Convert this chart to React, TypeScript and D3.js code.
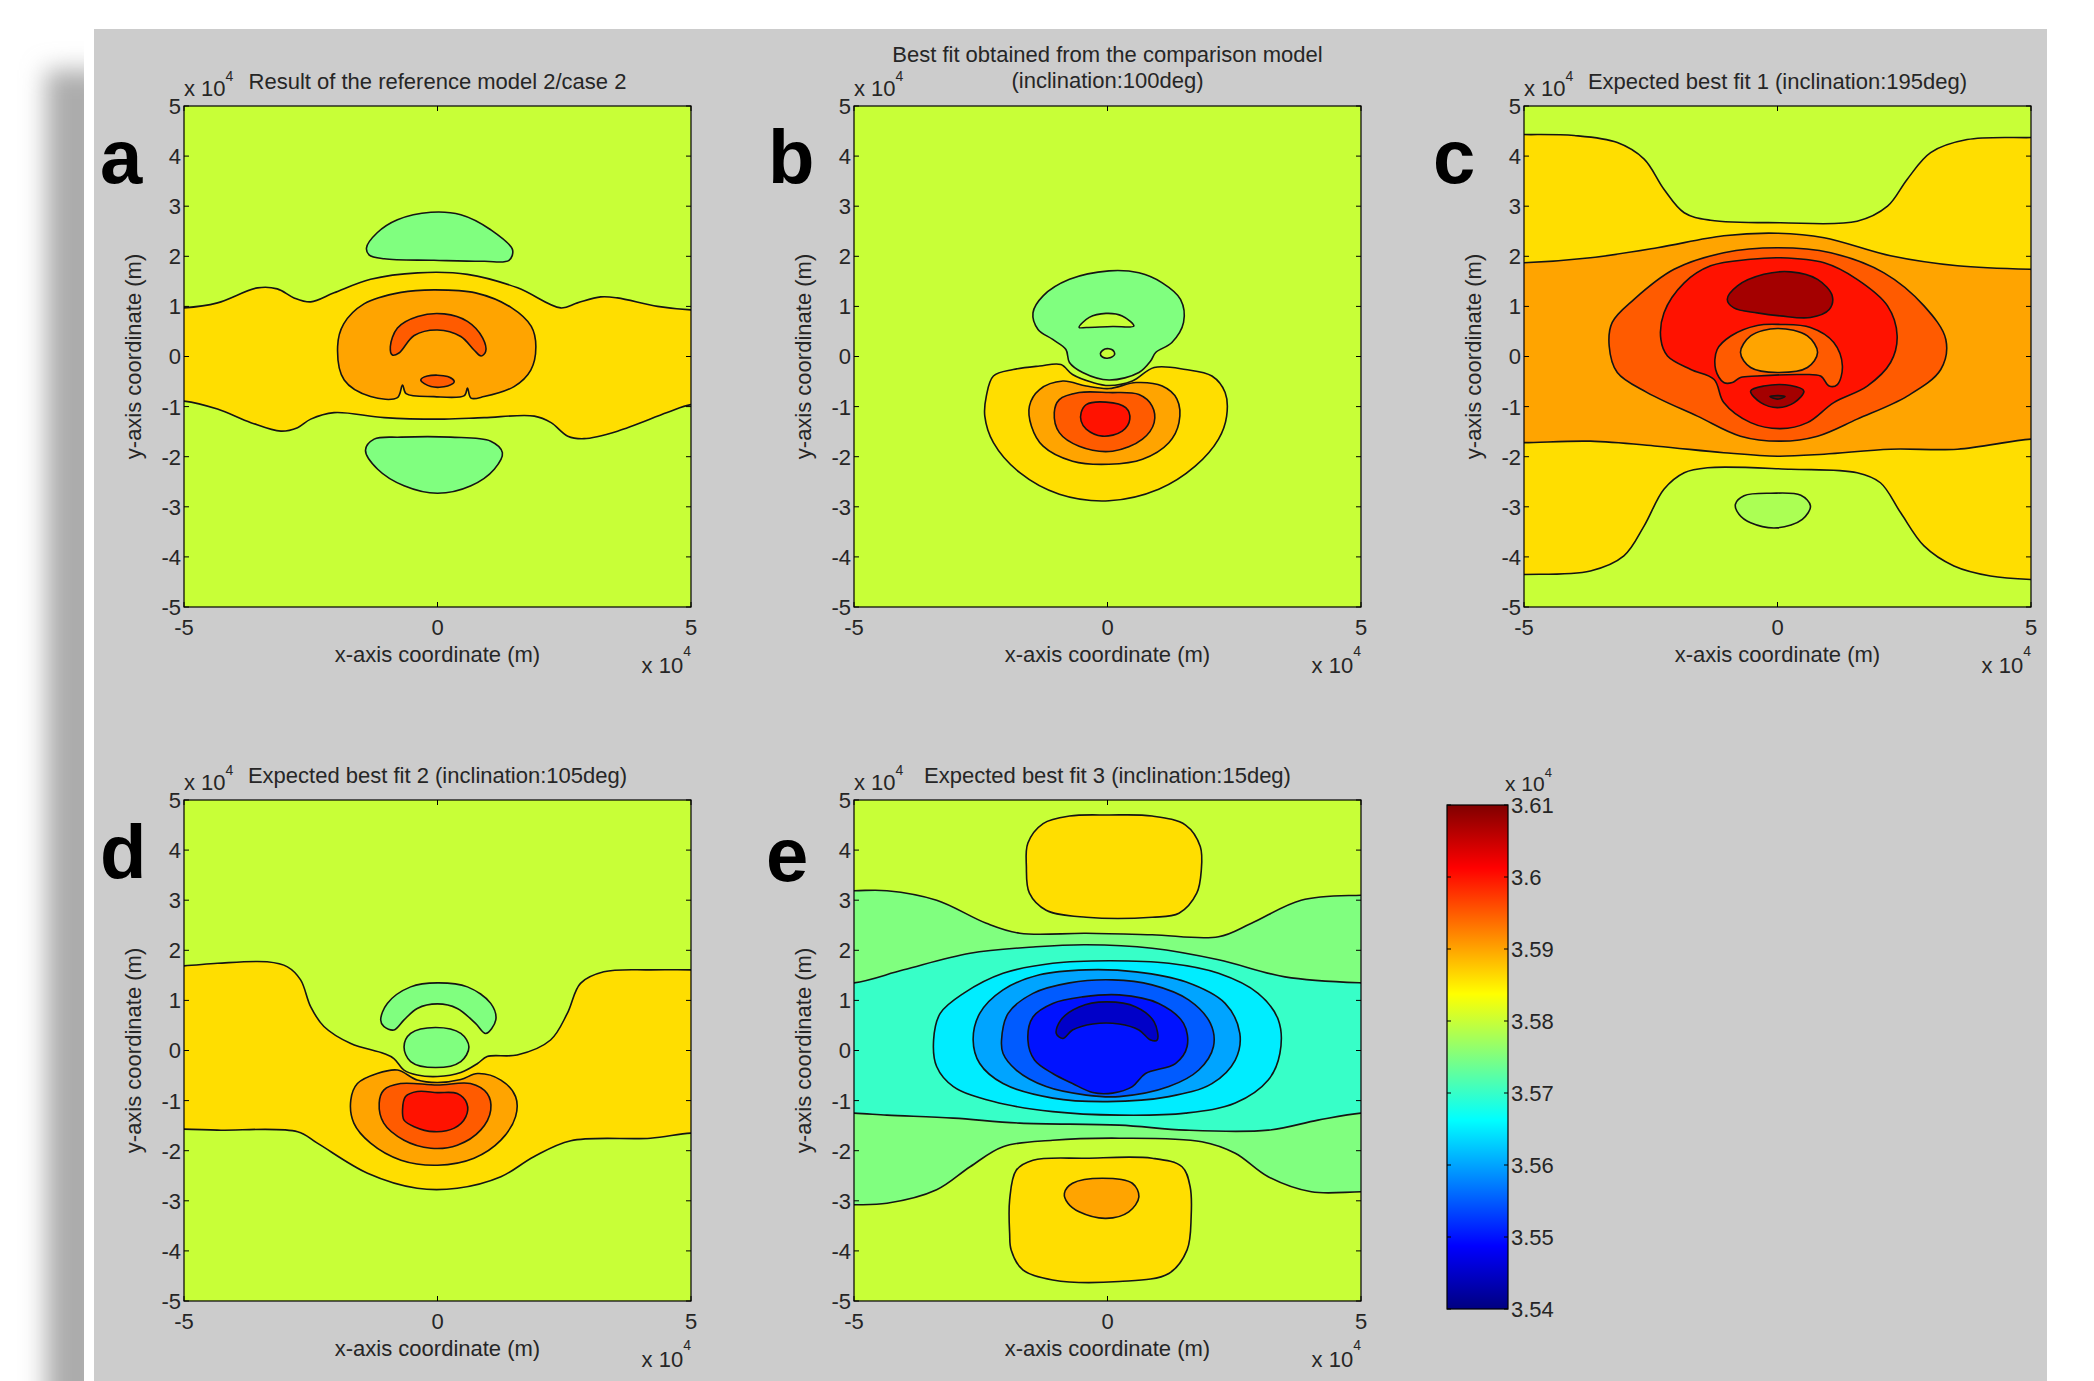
import React from 'react';
import * as d3 from 'd3';

type Pt = [number, number];
type Shape = { level: number; ring?: Pt[]; top?: Pt[]; bottom?: Pt[] };

// contour levels (x 10^4)
const L_NAVY = 3.545;
const L_DEEPBLUE = 3.55;
const L_BLUE = 3.555;
const L_LIGHTBLUE = 3.56;
const L_CYAN = 3.565;
const L_SEA = 3.57;
const L_GREEN = 3.575;
const L_PALE = 3.578;
const L_BASE = 3.58;
const L_YELLOW = 3.586;
const L_ORANGE = 3.59;
const L_REDORANGE = 3.595;
const L_RED = 3.6;
const L_DARKRED = 3.6075;
const L_CORE = 3.61;

const cbTicks = [3.54, 3.55, 3.56, 3.57, 3.58, 3.59, 3.6, 3.61];
const axisTicksY = [-5, -4, -3, -2, -1, 0, 1, 2, 3, 4, 5];
const axisTicksX = [-5, 0, 5];

// ---- panel a (contour outlines, x/y in 10^4 m)
const aYellowTop: Pt[] = [[-5, 0.97], [-4.34, 1.07], [-3.55, 1.37], [-3.16, 1.35], [-2.83, 1.17], [-2.5, 1.09], [-2.04, 1.27], [-1.32, 1.54], [-0.39, 1.67], [0.59, 1.64], [1.58, 1.37], [2.43, 0.97], [2.76, 1.07], [3.22, 1.19], [3.55, 1.17], [4.34, 1.0], [5, 0.93]];
const aYellowBottom: Pt[] = [[-5, -0.89], [-4.34, -1.05], [-3.68, -1.32], [-3.09, -1.49], [-2.76, -1.42], [-2.5, -1.25], [-2.04, -1.12], [-1.05, -1.22], [0.13, -1.25], [0.92, -1.22], [1.91, -1.19], [2.24, -1.32], [2.57, -1.59], [2.89, -1.64], [3.55, -1.49], [4.53, -1.12], [5, -0.96]];
const aGreenUp: Pt[] = [[-1.4, 2.17], [-1.19, 2.47], [-0.79, 2.73], [-0.13, 2.88], [0.46, 2.83], [1.05, 2.53], [1.48, 2.13], [1.41, 1.92], [0.92, 1.9], [-0.07, 1.92], [-1.05, 1.95], [-1.35, 2.03]];
const aGreenDown: Pt[] = [[-1.42, -1.87], [-1.25, -1.65], [-0.72, -1.61], [0.26, -1.61], [1.05, -1.69], [1.28, -1.92], [1.12, -2.25], [0.66, -2.58], [0, -2.73], [-0.66, -2.58], [-1.18, -2.25]];
const aOrange: Pt[] = [[-1.97, 0.2], [-1.85, 0.65], [-1.45, 1.05], [-0.72, 1.28], [-0.07, 1.33], [0.75, 1.27], [1.45, 0.98], [1.85, 0.6], [1.94, 0.2], [1.84, -0.27], [1.51, -0.6], [0.92, -0.8], [0.66, -0.83], [0.59, -0.63], [0.53, -0.78], [-0.07, -0.8], [-0.62, -0.74], [-0.69, -0.57], [-0.79, -0.82], [-1.32, -0.8], [-1.84, -0.47]];
const aRedArch: Pt[] = [[-0.93, 0.2], [-0.79, 0.57], [-0.39, 0.8], [0.13, 0.85], [0.59, 0.7], [0.89, 0.37], [0.95, 0.1], [0.86, 0.01], [0.72, 0.13], [0.46, 0.4], [0, 0.53], [-0.46, 0.42], [-0.76, 0.07], [-0.89, 0.03]];
const aRedSmall: Pt[] = [[-0.33, -0.47], [-0.2, -0.39], [0.2, -0.4], [0.33, -0.5], [0.2, -0.59], [-0.13, -0.6]];

// ---- panel b
const bYellow: Pt[] = [[-2.39, -0.79], [-2.25, -0.39], [-1.86, -0.26], [-1.34, -0.19], [-0.92, -0.16], [-0.69, -0.36], [-0.29, -0.52], [0.03, -0.58], [0.49, -0.49], [0.92, -0.22], [1.54, -0.26], [2.06, -0.39], [2.32, -0.72], [2.35, -1.19], [2.19, -1.65], [1.73, -2.19], [1.01, -2.65], [0.03, -2.88], [-0.95, -2.75], [-1.73, -2.32], [-2.25, -1.72], [-2.42, -1.19]];
const bOrange: Pt[] = [[-1.54, -0.99], [-1.34, -0.66], [-0.88, -0.49], [-0.42, -0.59], [0.03, -0.64], [0.56, -0.52], [1.08, -0.59], [1.37, -0.85], [1.41, -1.32], [1.21, -1.72], [0.69, -2.05], [0.03, -2.15], [-0.69, -2.09], [-1.27, -1.79], [-1.5, -1.39]];
const bRedOrange: Pt[] = [[-1.05, -1.12], [-0.95, -0.86], [-0.56, -0.72], [0.03, -0.72], [0.62, -0.76], [0.88, -0.99], [0.92, -1.32], [0.69, -1.65], [0.1, -1.89], [-0.56, -1.79], [-0.95, -1.52]];
const bRed: Pt[] = [[-0.52, -1.12], [-0.42, -0.96], [-0.03, -0.91], [0.36, -1.02], [0.44, -1.25], [0.29, -1.49], [-0.1, -1.59], [-0.42, -1.45], [-0.52, -1.29]];
const bGreen: Pt[] = [[0.03, 1.71], [-0.75, 1.54], [-1.27, 1.21], [-1.47, 0.87], [-1.37, 0.54], [-1.08, 0.34], [-0.82, 0.14], [-0.75, -0.12], [-0.49, -0.32], [0.03, -0.47], [0.62, -0.32], [0.85, -0.09], [0.95, 0.08], [1.27, 0.28], [1.5, 0.68], [1.44, 1.14], [1.08, 1.47], [0.62, 1.67]];
const bHalfMoon: Pt[] = [[-0.56, 0.58], [-0.36, 0.78], [-0.03, 0.86], [0.29, 0.81], [0.52, 0.61], [0.1, 0.6], [-0.42, 0.58]];
const bDot: Pt[] = [[-0.14, 0.06], [-0.05, 0.15], [0.1, 0.13], [0.14, 0.04], [0.02, -0.03], [-0.1, -0.01]];

// ---- panel c
const cYellowTop: Pt[] = [[-5, 4.43], [-4.01, 4.41], [-3.16, 4.27], [-2.63, 3.94], [-2.24, 3.34], [-1.84, 2.87], [-1.32, 2.72], [0.06, 2.67], [1.57, 2.7], [2.17, 3.0], [2.56, 3.54], [3.02, 4.07], [3.74, 4.33], [5, 4.37]];
const cYellowBottom: Pt[] = [[-5, -4.35], [-3.69, -4.28], [-3.03, -3.98], [-2.63, -3.38], [-2.24, -2.65], [-1.84, -2.32], [-1.38, -2.22], [0.26, -2.25], [1.57, -2.32], [2.03, -2.52], [2.43, -3.12], [2.89, -3.78], [3.48, -4.18], [4.2, -4.38], [5, -4.45]];
const cOrangeTop: Pt[] = [[-5, 1.87], [-3.69, 1.97], [-2.37, 2.17], [-1.06, 2.41], [0, 2.46], [0.92, 2.37], [2.23, 2.01], [3.55, 1.81], [5, 1.74]];
const cOrangeBottom: Pt[] = [[-5, -1.72], [-3.69, -1.69], [-2.37, -1.79], [-1.06, -1.92], [0, -1.99], [0.92, -1.95], [2.23, -1.85], [3.55, -1.85], [5, -1.65]];
const cRedOrange: Pt[] = [[-3.32, 0.21], [-3.26, 0.68], [-2.83, 1.14], [-2.04, 1.74], [-1.06, 2.07], [0, 2.17], [1.05, 2.07], [2.1, 1.67], [2.89, 1.01], [3.32, 0.34], [3.22, -0.26], [2.56, -0.79], [1.57, -1.25], [0.79, -1.59], [0.06, -1.69], [-0.73, -1.59], [-1.58, -1.19], [-2.57, -0.72], [-3.16, -0.32]];
const cRed: Pt[] = [[-2.3, 0.34], [-2.24, 0.87], [-1.84, 1.47], [-1.32, 1.81], [-0.53, 1.94], [0.06, 1.97], [0.92, 1.87], [1.57, 1.54], [2.17, 1.01], [2.36, 0.41], [2.23, -0.12], [1.77, -0.59], [1.11, -0.92], [0.59, -1.32], [0.06, -1.44], [-0.53, -1.32], [-1.06, -0.92], [-1.25, -0.46], [-1.71, -0.26], [-2.17, 0.01]];
const cDarkRedTop: Pt[] = [[-0.99, 1.14], [-0.79, 1.41], [-0.27, 1.64], [0.26, 1.69], [0.79, 1.54], [1.08, 1.21], [1.02, 0.94], [0.65, 0.78], [0.06, 0.81], [-0.4, 0.87], [-0.86, 0.97]];
const cRedOrangeInner: Pt[] = [[-1.22, -0.26], [-1.19, 0.14], [-0.92, 0.41], [-0.4, 0.62], [0.06, 0.64], [0.65, 0.58], [1.11, 0.28], [1.28, -0.19], [1.18, -0.56], [1.02, -0.59], [0.85, -0.39], [0.46, -0.36], [-0.4, -0.39], [-0.73, -0.42], [-0.89, -0.52], [-1.06, -0.52]];
const cOrangeInner: Pt[] = [[-0.73, 0.08], [-0.53, 0.41], [0, 0.56], [0.59, 0.41], [0.79, 0.08], [0.59, -0.22], [0, -0.32], [-0.53, -0.22]];
const cDarkRedLow: Pt[] = [[-0.53, -0.69], [-0.27, -0.59], [0.26, -0.58], [0.52, -0.69], [0.33, -0.92], [0, -1.02], [-0.33, -0.92]];
const cCore: Pt[] = [[-0.15, -0.8], [0, -0.78], [0.15, -0.8], [0, -0.85]];
const cPaleBlob: Pt[] = [[-0.83, -2.95], [-0.66, -2.78], [-0.13, -2.73], [0.46, -2.77], [0.65, -2.98], [0.49, -3.25], [0, -3.42], [-0.53, -3.32], [-0.76, -3.15]];

// ---- panel d
const dYellowTop: Pt[] = [[-5, 1.69], [-4.34, 1.74], [-3.36, 1.77], [-2.96, 1.67], [-2.7, 1.41], [-2.5, 0.87], [-2.24, 0.48], [-1.71, 0.14], [-1.06, -0.06], [-0.86, -0.16], [-0.66, -0.39], [-0.4, -0.49], [0, -0.52], [0.46, -0.44], [0.79, -0.26], [0.98, -0.12], [1.57, -0.09], [2.23, 0.21], [2.56, 0.74], [2.82, 1.34], [3.28, 1.57], [4.2, 1.61], [5, 1.61]];
const dYellowBottom: Pt[] = [[-5, -1.57], [-4.34, -1.59], [-2.76, -1.62], [-2.37, -1.85], [-1.38, -2.45], [-0.4, -2.75], [0.39, -2.75], [1.25, -2.52], [1.9, -2.12], [2.63, -1.8], [4.2, -1.75], [5, -1.65]];
const dGreenArch: Pt[] = [[-1.12, 0.61], [-0.99, 0.94], [-0.53, 1.27], [0, 1.35], [0.59, 1.27], [1.05, 0.94], [1.15, 0.61], [0.95, 0.34], [0.75, 0.54], [0.39, 0.84], [0, 0.93], [-0.4, 0.84], [-0.66, 0.61], [-0.86, 0.41], [-1.06, 0.48]];
const dGreenEllipse: Pt[] = [[-0.66, 0.07], [-0.53, 0.34], [-0.04, 0.46], [0.46, 0.34], [0.62, 0.07], [0.46, -0.22], [-0.04, -0.34], [-0.53, -0.22]];
const dOrange: Pt[] = [[-1.71, -0.99], [-1.58, -0.66], [-1.19, -0.46], [-0.79, -0.39], [-0.4, -0.59], [0, -0.64], [0.46, -0.58], [0.79, -0.46], [1.25, -0.59], [1.54, -0.92], [1.54, -1.32], [1.25, -1.79], [0.72, -2.15], [0, -2.29], [-0.72, -2.19], [-1.32, -1.85], [-1.65, -1.45]];
const dRedOrange: Pt[] = [[-1.15, -1.05], [-1.06, -0.79], [-0.73, -0.66], [0, -0.69], [0.65, -0.66], [0.98, -0.86], [1.05, -1.19], [0.85, -1.59], [0.39, -1.89], [-0.13, -1.95], [-0.66, -1.79], [-1.06, -1.45]];
const dRed: Pt[] = [[-0.69, -1.19], [-0.63, -0.92], [-0.4, -0.82], [0, -0.84], [0.39, -0.86], [0.58, -1.06], [0.56, -1.32], [0.33, -1.55], [-0.07, -1.62], [-0.46, -1.52], [-0.66, -1.39]];

// ---- panel e
const eGreenTop: Pt[] = [[-5, 3.19], [-4.35, 3.19], [-3.37, 3.0], [-2.39, 2.54], [-1.73, 2.34], [-0.42, 2.34], [0.88, 2.31], [2.19, 2.27], [2.84, 2.54], [3.82, 3.0], [5, 3.1]];
const eGreenBottom: Pt[] = [[-5, -3.08], [-4.35, -3.05], [-3.37, -2.78], [-2.71, -2.32], [-2.06, -1.92], [-1.08, -1.79], [0.23, -1.75], [1.86, -1.82], [2.52, -2.05], [3.17, -2.52], [4.02, -2.82], [5, -2.82]];
const eSeaTop: Pt[] = [[-5, 1.35], [-4.02, 1.61], [-2.71, 1.94], [-1.41, 2.07], [-0.42, 2.11], [0.88, 2.04], [2.19, 1.81], [3.5, 1.47], [5, 1.35]];
const eSeaBottom: Pt[] = [[-5, -1.25], [-4.35, -1.29], [-3.04, -1.35], [-1.73, -1.45], [0.23, -1.49], [1.54, -1.59], [3.17, -1.59], [4.15, -1.39], [5, -1.25]];
const eCyan: Pt[] = [[-3.43, 0.21], [-3.3, 0.74], [-2.84, 1.14], [-2.06, 1.54], [-1.08, 1.74], [0.03, 1.79], [1.21, 1.74], [2.19, 1.54], [2.97, 1.14], [3.37, 0.61], [3.4, -0.06], [3.17, -0.59], [2.52, -1.05], [1.54, -1.25], [0.23, -1.29], [-1.08, -1.22], [-2.25, -1.02], [-3.04, -0.72], [-3.37, -0.32]];
const eLightBlue: Pt[] = [[-2.65, 0.21], [-2.52, 0.74], [-2.06, 1.21], [-1.34, 1.51], [-0.42, 1.61], [0.56, 1.57], [1.54, 1.37], [2.32, 0.94], [2.61, 0.34], [2.52, -0.19], [2.06, -0.66], [1.21, -0.92], [0, -1.02], [-1.08, -0.95], [-2.06, -0.66], [-2.52, -0.26]];
const eBlue: Pt[] = [[-2.09, 0.21], [-1.96, 0.74], [-1.47, 1.14], [-0.75, 1.35], [0.1, 1.41], [0.88, 1.31], [1.6, 1.01], [2.03, 0.54], [2.09, 0.08], [1.8, -0.39], [1.21, -0.72], [0.23, -0.92], [-0.42, -0.89], [-1.21, -0.72], [-1.8, -0.39], [-2.06, -0.06]];
const eDeepBlue: Pt[] = [[-1.57, 0.21], [-1.47, 0.67], [-1.08, 0.94], [-0.49, 1.07], [0.23, 1.11], [1.01, 0.94], [1.5, 0.54], [1.57, 0.08], [1.34, -0.26], [0.75, -0.46], [0.49, -0.72], [0.1, -0.85], [-0.29, -0.84], [-0.69, -0.66], [-1.08, -0.46], [-1.44, -0.19]];
const eNavyArch: Pt[] = [[-1.01, 0.34], [-0.92, 0.61], [-0.56, 0.87], [-0.03, 0.97], [0.56, 0.87], [0.92, 0.57], [0.98, 0.21], [0.85, 0.21], [0.62, 0.41], [0.23, 0.53], [-0.29, 0.53], [-0.69, 0.41], [-0.88, 0.24]];
const eYellowUp: Pt[] = [[-1.6, 3.67], [-1.57, 4.14], [-1.27, 4.53], [-0.75, 4.68], [0.03, 4.7], [0.88, 4.68], [1.54, 4.5], [1.83, 4.07], [1.85, 3.6], [1.76, 3.14], [1.41, 2.74], [0.88, 2.66], [-0.42, 2.66], [-1.21, 2.8], [-1.54, 3.14]];
const eYellowDown: Pt[] = [[-1.93, -3.65], [-1.93, -2.98], [-1.8, -2.39], [-1.47, -2.19], [-0.42, -2.15], [0.88, -2.15], [1.47, -2.32], [1.63, -2.72], [1.65, -3.32], [1.57, -3.98], [1.21, -4.45], [0.23, -4.61], [-1.08, -4.58], [-1.67, -4.38], [-1.9, -3.98]];
const eOrange: Pt[] = [[-0.85, -2.85], [-0.69, -2.65], [-0.1, -2.55], [0.49, -2.65], [0.62, -2.92], [0.42, -3.22], [-0.03, -3.35], [-0.56, -3.22], [-0.78, -3.05]];

const panels = [
  {
    id: 'a', x0: 184, y0: 106, title: ['Result of the reference model 2/case 2'],
    shapes: [
      { level: L_YELLOW, top: aYellowTop, bottom: aYellowBottom },
      { level: L_GREEN, ring: aGreenUp },
      { level: L_GREEN, ring: aGreenDown },
      { level: L_ORANGE, ring: aOrange },
      { level: L_REDORANGE, ring: aRedArch },
      { level: L_REDORANGE, ring: aRedSmall },
    ] as Shape[],
  },
  {
    id: 'b', x0: 854, y0: 106, title: ['Best fit obtained from the comparison model', '(inclination:100deg)'],
    shapes: [
      { level: L_YELLOW, ring: bYellow },
      { level: L_ORANGE, ring: bOrange },
      { level: L_REDORANGE, ring: bRedOrange },
      { level: L_RED, ring: bRed },
      { level: L_GREEN, ring: bGreen },
      { level: L_BASE, ring: bHalfMoon },
      { level: L_BASE, ring: bDot },
    ] as Shape[],
  },
  {
    id: 'c', x0: 1524, y0: 106, title: ['Expected best fit 1 (inclination:195deg)'],
    shapes: [
      { level: L_YELLOW, top: cYellowTop, bottom: cYellowBottom },
      { level: L_PALE, ring: cPaleBlob },
      { level: L_ORANGE, top: cOrangeTop, bottom: cOrangeBottom },
      { level: L_REDORANGE, ring: cRedOrange },
      { level: L_RED, ring: cRed },
      { level: L_DARKRED, ring: cDarkRedTop },
      { level: L_REDORANGE, ring: cRedOrangeInner },
      { level: L_ORANGE, ring: cOrangeInner },
      { level: L_DARKRED, ring: cDarkRedLow },
      { level: L_CORE, ring: cCore },
    ] as Shape[],
  },
  {
    id: 'd', x0: 184, y0: 800, title: ['Expected best fit 2 (inclination:105deg)'],
    shapes: [
      { level: L_YELLOW, top: dYellowTop, bottom: dYellowBottom },
      { level: L_GREEN, ring: dGreenArch },
      { level: L_GREEN, ring: dGreenEllipse },
      { level: L_ORANGE, ring: dOrange },
      { level: L_REDORANGE, ring: dRedOrange },
      { level: L_RED, ring: dRed },
    ] as Shape[],
  },
  {
    id: 'e', x0: 854, y0: 800, title: ['Expected best fit 3 (inclination:15deg)'],
    shapes: [
      { level: L_GREEN, top: eGreenTop, bottom: eGreenBottom },
      { level: L_SEA, top: eSeaTop, bottom: eSeaBottom },
      { level: L_CYAN, ring: eCyan },
      { level: L_LIGHTBLUE, ring: eLightBlue },
      { level: L_BLUE, ring: eBlue },
      { level: L_DEEPBLUE, ring: eDeepBlue },
      { level: L_NAVY, ring: eNavyArch },
      { level: L_YELLOW, ring: eYellowUp },
      { level: L_YELLOW, ring: eYellowDown },
      { level: L_ORANGE, ring: eOrange },
    ] as Shape[],
  },
];

const W = 507;
const H = 501;
const FONT = '"Liberation Sans", Arial, Helvetica, sans-serif';
const INK = '#262626';
const FS = 22;

const clamp = (v: number) => Math.max(0, Math.min(1, v));
// MATLAB jet colour map
function jetT(t: number) {
  const r = clamp(Math.min(4 * t - 1.5, -4 * t + 4.5));
  const g = clamp(Math.min(4 * t - 0.5, -4 * t + 3.5));
  const b = clamp(Math.min(4 * t + 0.5, -4 * t + 2.5));
  return d3.rgb(r * 255, g * 255, b * 255).formatHex();
}
const cNorm = d3.scaleLinear().domain([3.54, 3.61]).range([0, 1]).clamp(true);
const jet = (v: number) => jetT(cNorm(v));

function Panel({ p }: { p: typeof panels[number] }) {
  const x = d3.scaleLinear().domain([-5, 5]).range([p.x0, p.x0 + W]);
  const y = d3.scaleLinear().domain([-5, 5]).range([p.y0 + H, p.y0]);
  const line = d3.line<Pt>().x(d => x(d[0])).y(d => y(d[1])).curve(d3.curveCatmullRomClosed.alpha(0.5));

  const pathFor = (s: Shape) => {
    if (s.ring) return line(s.ring) || '';
    const top = s.top!, bot = s.bottom!;
    const pts: Pt[] = [
      [-5.8, top[0][1]], ...top, [5.8, top[top.length - 1][1]],
      [5.8, bot[bot.length - 1][1]], ...bot.slice().reverse(), [-5.8, bot[0][1]],
    ];
    return line(pts) || '';
  };

  const bottom = p.y0 + H;
  const right = p.x0 + W;
  const cx = p.x0 + W / 2;

  return (
    <g>
      <clipPath id={`clip-${p.id}`}>
        <rect x={p.x0} y={p.y0} width={W} height={H} />
      </clipPath>
      <rect x={p.x0} y={p.y0} width={W} height={H} fill={jet(L_BASE)} />
      <g clipPath={`url(#clip-${p.id})`}>
        {p.shapes.map((s, i) => (
          <path key={i} d={pathFor(s)} fill={jet(s.level)} stroke="#141414" strokeWidth={1.6} strokeLinejoin="round" />
        ))}
      </g>
      <rect x={p.x0} y={p.y0} width={W} height={H} fill="none" stroke="#000" strokeWidth={1.2} />
      {axisTicksY.map(v => (
        <g key={`ty${v}`}>
          <line x1={p.x0} x2={p.x0 + 5} y1={y(v)} y2={y(v)} stroke="#000" />
          <line x1={right} x2={right - 5} y1={y(v)} y2={y(v)} stroke="#000" />
          <text x={p.x0 - 3} y={y(v)} dy="0.36em" textAnchor="end" fontSize={FS} fill={INK}>{String(v)}</text>
        </g>
      ))}
      {axisTicksX.map(v => (
        <g key={`tx${v}`}>
          <line x1={x(v)} x2={x(v)} y1={p.y0} y2={p.y0 + 5} stroke="#000" />
          <line x1={x(v)} x2={x(v)} y1={bottom} y2={bottom - 5} stroke="#000" />
          <text x={x(v)} y={bottom + 28} textAnchor="middle" fontSize={FS} fill={INK}>{String(v)}</text>
        </g>
      ))}
      <text x={cx} y={bottom + 55} textAnchor="middle" fontSize={FS} fill={INK}>x-axis coordinate (m)</text>
      <text x={right} y={bottom + 66} textAnchor="end" fontSize={FS} fill={INK}>x 10<tspan dy={-17} fontSize={14}>4</tspan></text>
      <text transform={`translate(${p.x0 - 51},${p.y0 + H / 2}) rotate(-90)`} textAnchor="middle" dy="0.35em" fontSize={FS} fill={INK}>y-axis coordinate (m)</text>
      <text x={p.x0} y={p.y0 - 10} fontSize={FS} fill={INK}>x 10<tspan dy={-15} fontSize={14}>4</tspan></text>
      {p.title.length === 1 ? (
        <text x={cx} y={p.y0 - 17} textAnchor="middle" fontSize={FS} fill={INK}>{p.title[0]}</text>
      ) : (
        p.title.map((t, i) => (
          <text key={i} x={cx} y={p.y0 - 44 + i * 26} textAnchor="middle" fontSize={FS} fill={INK}>{t}</text>
        ))
      )}
    </g>
  );
}

const letters = [
  { t: 'a', x: 100, y: 183 },
  { t: 'b', x: 768, y: 183 },
  { t: 'c', x: 1433, y: 183 },
  { t: 'd', x: 100, y: 878 },
  { t: 'e', x: 766, y: 881 },
];

function ColorBar() {
  const x0 = 1447, x1 = 1508, top = 805, bot = 1309;
  const y = d3.scaleLinear().domain([3.54, 3.61]).range([bot, top]);
  const stops = [0, 0.125, 0.375, 0.625, 0.875, 1];
  return (
    <g>
      <defs>
        <linearGradient id="jetGrad" x1="0" y1="1" x2="0" y2="0">
          {stops.map(s => <stop key={s} offset={s} stopColor={jetT(s)} />)}
        </linearGradient>
      </defs>
      <rect x={x0} y={top} width={x1 - x0} height={bot - top} fill="url(#jetGrad)" stroke="#000" strokeWidth={1.2} />
      {cbTicks.map(v => (
        <g key={v}>
          <line x1={x0} x2={x0 + 4} y1={y(v)} y2={y(v)} stroke="#000" />
          <line x1={x1} x2={x1 - 4} y1={y(v)} y2={y(v)} stroke="#000" />
          <text x={x1 + 3} y={y(v)} dy="0.36em" fontSize={FS} fill={INK}>{String(+v.toFixed(2))}</text>
        </g>
      ))}
      <text x={1505} y={791} fontSize={FS - 1} fill={INK}>x 10<tspan dy={-14} fontSize={13}>4</tspan></text>
    </g>
  );
}

export default function App() {
  return (
    <svg width={2094} height={1381} style={{ position: 'absolute', left: 0, top: 0, background: '#fff' }} fontFamily={FONT}>
      <defs>
        <filter id="shadowBlur" x="-50%" y="-10%" width="200%" height="120%">
          <feGaussianBlur stdDeviation={12} />
        </filter>
      </defs>
      <rect x={0} y={0} width={2094} height={1381} fill="#fff" />
      <rect x={46} y={70} width={60} height={1400} fill="#acacac" filter="url(#shadowBlur)" />
      <rect x={84} y={22} width={1970} height={1370} fill="#fff" />
      <rect x={94} y={29} width={1953} height={1360} fill="#cccccc" />
      {panels.map(p => <Panel key={p.id} p={p} />)}
      <ColorBar />
      {letters.map(l => (
        <text key={l.t} x={l.x} y={l.y} fontSize={76} fontWeight="bold" fill="#000">{l.t}</text>
      ))}
    </svg>
  );
}
